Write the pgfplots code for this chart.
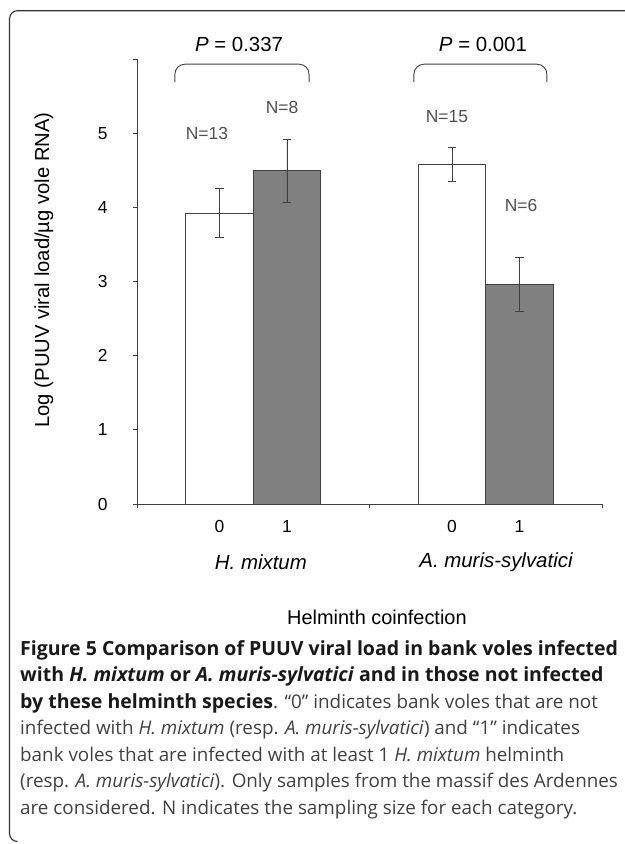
\documentclass[border=0pt]{standalone}
\usepackage{fontspec}
\setmainfont{Liberation Sans}
\newfontfamily\capfont{Open Sans}
\usepackage{pgfplots}
\pgfplotsset{compat=1.18}
\definecolor{axisgray}{HTML}{404040}
\definecolor{bargray}{HTML}{808080}
\definecolor{ngray}{HTML}{505050}
\definecolor{captxt}{HTML}{404040}
\newcommand{\capbf}[1]{{\fontsize{19.6}{26}\selectfont\bfseries\color{black!90}#1}}
\begin{document}
\begin{tikzpicture}[x=1bp,y=1bp]
\useasboundingbox (0,0) rectangle (625,-844);
% frame
\draw[line width=1.1bp, black!80, rounded corners=8bp] (626,-10.7) -- (9.5,-10.7) -- (9.5,-841.5) -- (17,-841.5);
\begin{axis}[
  at={(137bp,-504bp)}, anchor=south west,
  scale only axis, width=465bp, height=445bp,
  xmin=0, xmax=2, ymin=0, ymax=6,
  axis x line*=bottom, axis y line*=left,
  axis line style={axisgray, line width=0.9bp},
  tick style={axisgray, line width=0.9bp},
  tick align=outside, major tick length=4bp,
  xtick={0,1,2}, xticklabels={},
  extra x ticks={0.355,0.645,1.355,1.645},
  extra x tick labels={0,1,0,1},
  extra x tick style={major tick length=0pt, xticklabel style={yshift=-13bp}},
  ytick={0,1,2,3,4,5,6}, yticklabels={0,1,2,3,4,5,{}},
  yticklabel style={xshift=-22bp},
  ticklabel style={font=\fontsize{17.5}{20}\selectfont, text=black},
  xlabel={Helminth coinfection},
  xlabel style={at={(axis description cs:0.516,-0.254)}, anchor=center, font=\fontsize{20}{24}\selectfont},
  ylabel={Log (PUUV viral load/µg vole RNA)},
  ylabel style={at={(axis description cs:-0.2,0.526)}, anchor=center, font=\fontsize{20.3}{24}\selectfont},
  clip=false,
]
\addplot[ybar, bar width=0.29, bar shift=0pt, fill=white, draw=axisgray, line width=1bp,
  error bars/.cd, y dir=both, y explicit,
  error bar style={axisgray, line width=0.9bp},
  error mark options={rotate=90, mark size=4.4bp, axisgray, line width=0.9bp}]
  coordinates {(0.355,3.92) +- (0,0.33) (1.355,4.58) +- (0,0.23)};
\addplot[ybar, bar width=0.29, bar shift=0pt, fill=bargray, draw=axisgray, line width=1bp,
  error bars/.cd, y dir=both, y explicit,
  error bar style={axisgray, line width=0.9bp},
  error mark options={rotate=90, mark size=4.4bp, axisgray, line width=0.9bp}]
  coordinates {(0.645,4.49) +- (0,0.42) (1.645,2.96) +- (0,0.37)};
% group labels
\node[font=\fontsize{20.5}{24}\selectfont\itshape] at (axis cs:0.533,-0.78) {H. mixtum};
\node[font=\fontsize{20.5}{24}\selectfont\itshape] at (axis cs:1.544,-0.78) {A. muris-sylvatici};
% sample sizes
\node[font=\fontsize{17.5}{20}\selectfont, text=ngray] at (axis cs:0.301,4.99) {N=13};
\node[font=\fontsize{17.5}{20}\selectfont, text=ngray] at (axis cs:0.624,5.35) {N=8};
\node[font=\fontsize{17.5}{20}\selectfont, text=ngray] at (axis cs:1.333,5.23) {N=15};
\node[font=\fontsize{17.5}{20}\selectfont, text=ngray] at (axis cs:1.652,4.03) {N=6};
% brackets and P-values
\draw[axisgray, line width=0.9bp, rounded corners=10bp] (axis cs:0.163,5.69) -- (axis cs:0.163,5.93) -- (axis cs:0.74,5.93) -- (axis cs:0.74,5.69);
\draw[axisgray, line width=0.9bp, rounded corners=10bp] (axis cs:1.191,5.69) -- (axis cs:1.191,5.93) -- (axis cs:1.763,5.93) -- (axis cs:1.763,5.69);
\node[font=\fontsize{20.5}{24}\selectfont] at (axis cs:0.439,6.19) {\textit{P} = 0.337};
\node[font=\fontsize{20.5}{24}\selectfont] at (axis cs:1.488,6.19) {\textit{P} = 0.001};
\end{axis}
% caption
\begin{scope}[every node/.style={anchor=base west, inner sep=0pt, font=\capfont\fontsize{18.9}{26}\selectfont, text=captxt}]
\node at (20,-655) {\capbf{Figure 5 Comparison of PUUV viral load in bank voles infected}};
\node at (20,-681.5) {\capbf{with \textit{H. mixtum} or \textit{A. muris-sylvatici} and in those not infected}};
\node at (20,-708) {\capbf{by these helminth species}. “0” indicates bank voles that are not};
\node at (20,-734.5) {infected with \textit{H. mixtum} (resp. \textit{A. muris-sylvatici}) and “1” indicates};
\node at (20,-761) {bank voles that are infected with at least 1 \textit{H. mixtum} helminth};
\node at (20,-787.5) {(resp. \textit{A. muris-sylvatici}). Only samples from the massif des Ardennes};
\node at (20,-814) {are considered. N indicates the sampling size for each category.};
\end{scope}
\end{tikzpicture}
\end{document}
